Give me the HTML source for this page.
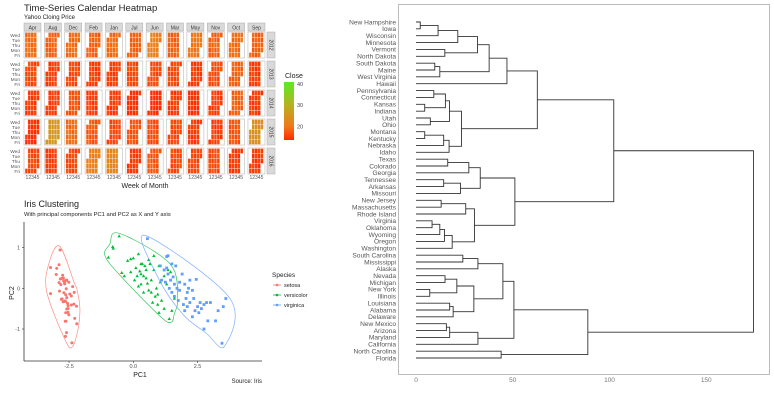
<!DOCTYPE html>
<html><head><meta charset="utf-8"><style>
html,body{margin:0;padding:0;background:#fff;width:774px;height:400px;overflow:hidden;}
svg{display:block;font-family:"Liberation Sans",sans-serif;}
</style></head><body>
<svg id="s" width="774" height="400" viewBox="0 0 774 400">
<g id="hm">
<text x="24" y="11" font-size="9.5" fill="#222">Time-Series Calendar Heatmap</text>
<text x="24" y="19" font-size="6" fill="#222">Yahoo Cloing Price</text>
<text x="145" y="188" font-size="7" fill="#222" text-anchor="middle">Week of Month</text>
<text x="285" y="78" font-size="7" fill="#222">Close</text>
<defs><linearGradient id="cg" x1="0" y1="1" x2="0" y2="0">
<stop offset="0" stop-color="#ff2a00"/><stop offset="0.24" stop-color="#f07a1a"/><stop offset="0.6" stop-color="#b8b020"/><stop offset="1" stop-color="#55ee22"/></linearGradient></defs>
<rect x="284" y="82" width="10" height="58" fill="url(#cg)"/>
</g>
<g id="iris">
<text x="24" y="207" font-size="9" fill="#222">Iris Clustering</text>
<text x="24" y="216" font-size="5.8" fill="#222">With principal components PC1 and PC2 as X and Y axis</text>
<line x1="24" y1="222" x2="24" y2="361" stroke="#333" stroke-width="0.8"/>
<line x1="24" y1="361" x2="262" y2="361" stroke="#333" stroke-width="0.8"/>
<text x="140" y="377" font-size="7" fill="#222" text-anchor="middle">PC1</text>
<text transform="translate(14,293) rotate(-90)" font-size="7" fill="#222" text-anchor="middle">PC2</text>
<text x="262" y="383" font-size="6" fill="#222" text-anchor="end">Source: Iris</text>
<text x="272" y="277" font-size="6.5" fill="#222">Species</text>
</g>
<g id="dd">
<rect x="398.5" y="4.5" width="371" height="370" fill="none" stroke="#bbb" stroke-width="1"/>
</g>
</svg>
<script>
// ---------- heatmap data ----------
const months=["Apr","Aug","Dec","Feb","Jan","Jul","Jun","Mar","May","Nov","Oct","Sep"];
const years=["2012","2013","2014","2015","2016"];
const days=["Wed","Tue","Thu","Mon","Fri"];
const close2012=[19,18,19,18,19,18,21,18,20,18,19,18];
const close2013=[16,15,16,15,15,16,16,16,15,16,18,15];
const close2014=[15,15,17,15,15,14,13,15,14,15,18,15];
const close2015=[14,25,19,17,16,17,16,16,15,15,17,24];
const close2016=[16,15,16,21,22,15,17,16,16,16,15,15];
const startOffsets=[0,1,2,3,1,4,2,0,3,1,2,4];
const legendTicks=[20,30,40];
// ---------- iris data ----------
const setosa=[[-2.68,-0.32],[-2.71,0.18],[-2.89,0.14],[-2.75,0.32],[-2.73,-0.33],[-2.28,-0.74],[-2.82,0.09],[-2.63,-0.16],[-2.89,0.58],[-2.67,0.11],[-2.51,-0.65],[-2.61,-0.01],[-2.79,0.24],[-3.22,0.51],[-2.64,-1.18],[-2.39,-1.34],[-2.62,-0.81],[-2.65,-0.31],[-2.2,-0.87],[-2.59,-0.51],[-2.31,-0.39],[-2.54,-0.43],[-3.22,-0.13],[-2.3,-0.1],[-2.36,0.04],[-2.51,0.15],[-2.47,-0.14],[-2.56,-0.37],[-2.64,-0.32],[-2.63,0.19],[-2.59,0.2],[-2.41,-0.41],[-2.65,-0.81],[-2.6,-1.09],[-2.67,0.12],[-2.87,-0.07],[-2.63,-0.6],[-2.8,-0.27],[-2.98,0.49],[-2.59,-0.23],[-2.77,-0.26],[-2.85,0.94],[-3,0.34],[-2.41,-0.19],[-2.21,-0.44],[-2.72,0.25],[-2.54,-0.5],[-2.84,0.23],[-2.54,-0.59],[-2.7,-0.11]];
const versicolor=[[-0.55,1.28],[-0.8,1.02],[-0.78,0.98],[-0.97,0.76],[-0.45,0.38],[-0.22,0.68],[-0.1,0.72],[0.0,0.74],[0.2,0.84],[0.35,0.6],[0.45,0.55],[0.6,0.7],[0.1,0.5],[0.25,0.42],[0.3,0.35],[0.4,0.3],[0.5,0.25],[0.15,0.3],[-0.1,0.4],[0.05,0.2],[0.3,0.1],[0.55,0.12],[0.7,0.2],[0.8,0.45],[1.0,0.55],[1.2,0.3],[1.35,0.45],[1.45,0.4],[1.3,0.1],[0.9,0.0],[0.6,-0.05],[0.4,-0.1],[0.2,0.05],[0.85,-0.2],[0.75,-0.35],[0.95,-0.4],[1.1,-0.3],[1.2,-0.5],[1.0,-0.6],[1.5,-0.55],[1.4,-0.75],[0.7,-0.1],[0.5,0.45],[-0.35,0.3],[0.65,0.6],[1.05,0.15],[0.95,-0.15],[0.3,0.6],[0.8,0.8],[1.6,-0.25]];
const virginica=[[0.55,1.22],[1.3,0.78],[1.35,0.8],[1.5,0.6],[1.65,0.55],[1.05,0.55],[1.2,0.45],[1.35,0.35],[1.1,0.2],[1.25,0.15],[1.45,0.2],[1.55,0.28],[1.6,0.1],[1.8,0.15],[2.0,0.1],[2.2,0.2],[2.45,0.22],[1.8,-0.05],[2.1,-0.1],[2.3,-0.05],[1.75,-0.3],[1.95,-0.4],[2.1,-0.45],[2.35,-0.25],[2.5,-0.45],[2.6,-0.35],[2.75,-0.4],[2.85,-0.35],[2.55,-0.6],[2.4,-0.55],[2.65,-0.5],[2.3,-0.7],[3.0,-0.35],[3.6,-0.25],[3.5,-0.45],[3.3,-0.55],[3.2,-0.8],[2.9,-0.8],[2.75,-1.0],[3.45,-1.35],[1.5,-0.1],[1.7,0.0],[1.4,0.0],[1.9,0.35],[2.05,-0.25],[2.2,-0.35],[1.6,-0.2],[2.15,0.0],[1.3,0.5],[2.0,-0.55]];
const speciesNames=["setosa","versicolor","virginica"];
const xTicks=[-2.5,0,2.5];
const yTicks=[-1,0,1];
// ---------- dendrogram data ----------
const treeA=[[[[["New Hampshire","Iowa",2.2],"Wisconsin",11.4],"Minnesota",21.6],["Vermont","North Dakota",14.9],31.8],[["South Dakota","Maine",9.7],"West Virginia",12.3],37.8];
const treeB=[[[["Pennsylvania","Connecticut",9.2],["Kansas","Indiana",4.5],15.2],["Utah","Ohio",7.4],17.3],[[["Montana","Kentucky",4.5],"Nebraska",14.3],"Idaho",17.1],23.5];
const treeC=[[[["Texas","Colorado",16.4],"Georgia",27.3],[["Tennessee","Arkansas",14.3],"Missouri",23],33.2],[[["New Jersey","Massachusetts",13],"Rhode Island",25.7],[[[["Virginia","Oklahoma",8.3],"Wyoming",12.3],"Oregon",14.7],"Washington",18.7],30.2],51.1];
const treeD=[[[["South Carolina","Mississippi",24.2],"Alaska",32],[[["Nevada","Michigan",15],["New York","Illinois",7.1],21.1],[["Louisiana","Alabama",17.4],"Delaware",19.2],29.9],44.9],[[["New Mexico","Arizona",15.7],"Maryland",17.4],"California",32],50.6];
const treeRoot=[[[[treeA,"Hawaii",47],treeB,62.7],treeC,102.2],[treeD,["North Carolina","Florida",44],88.8],174.4];
const dTicks=[0,50,100,150];

const NS="http://www.w3.org/2000/svg";
function mk(tag,attrs,parent){const e=document.createElementNS(NS,tag);for(const k in attrs)e.setAttribute(k,attrs[k]);parent.appendChild(e);return e;}

// ---- heatmap ----
(function(){
const g=document.getElementById('hm');
const stops=[[13.5,[255,42,0]],[20,[240,122,26]],[30,[184,176,32]],[41,[85,238,34]]];
function col(v){if(v<=stops[0][0])return 'rgb('+stops[0][1]+')';for(let i=1;i<stops.length;i++){if(v<=stops[i][0]){const a=stops[i-1],b=stops[i],t=(v-a[0])/(b[0]-a[0]);return 'rgb('+a[1].map((c,j)=>Math.round(c+(b[1][j]-c)*t)).join(',')+')';}}return 'rgb('+stops[3][1]+')';}
const legY=v=>140-(v-13.5)*(58/27.5);
legendTicks.forEach(t=>{const tx=mk('text',{x:297,y:legY(t)+2,'font-size':5.5,fill:'#444'},g);tx.textContent=t;

});
const data=[close2012,close2013,close2014,close2015,close2016];
const px0=24,pitch=20.36,pw=17,py0=32,pyp=29,ph=26;
months.forEach((m,i)=>{const x=px0+i*pitch;
const r=mk('rect',{x:x,y:23,width:pw,height:8,fill:'#d9d9d9',stroke:'#aaa','stroke-width':0.5},g);


const t=mk('text',{x:x+pw/2,y:29.3,'font-size':5,'text-anchor':'middle',fill:'#333'},g);t.textContent=m;


const w=mk('text',{x:x+pw/2,y:179,'font-size':5,'text-anchor':'middle',fill:'#555'},g);w.textContent='12345';

});
years.forEach((yr,j)=>{const y=py0+j*pyp;
const r=mk('rect',{x:267,y:y,width:8,height:ph,fill:'#d9d9d9',stroke:'#aaa','stroke-width':0.5},g);


const t=mk('text',{transform:'translate(269.5,'+(y+ph/2)+') rotate(90)','font-size':5,'text-anchor':'middle',fill:'#333'},g);t.textContent=yr;


days.forEach((d,k)=>{const dl=mk('text',{x:20,y:y+3+k*5+1.8,'font-size':4.8,'text-anchor':'end',fill:'#555'},g);dl.textContent=d;

});
months.forEach((m,i)=>{const x=px0+i*pitch;
const pr=mk('rect',{x:x,y:y,width:pw,height:ph,fill:'#fff',stroke:'#bbb','stroke-width':0.6},g);


const v=data[j][i],off=(startOffsets[i]+j)%5;
for(let c=0;c<5;c++)for(let r2=0;r2<5;r2++){
if(c===0&&r2<off)continue; if(c===4&&r2>=off)continue;
const vv=v+((c*3+r2*2+i+j)%5-2)*0.5;
const cell=mk('rect',{x:x+1+c*2.9,y:y+0.5+r2*5,width:2.9,height:5,fill:col(vv),stroke:'#fff','stroke-width':0.3},g);

}
});});
})();

// ---- iris ----
(function(){
const g=document.getElementById('iris');
const sx=v=>133.3+v*25.7, sy=v=>288.3-v*40.7;
xTicks.forEach(t=>{const tx=mk('text',{x:sx(t),y:368,'font-size':5.5,'text-anchor':'middle',fill:'#555'},g);tx.textContent=t.toFixed(1);


mk('line',{x1:sx(t),y1:361,x2:sx(t),y2:363,stroke:'#333','stroke-width':0.6},g);});
yTicks.forEach(t=>{const tx=mk('text',{x:20,y:sy(t)+2,'font-size':5.5,'text-anchor':'end',fill:'#555'},g);tx.textContent=t;


mk('line',{x1:22,y1:sy(t),x2:24,y2:sy(t),stroke:'#333','stroke-width':0.6},g);});
const sets=[setosa,versicolor,virginica],cols=['#f8766d','#00ba38','#619cff'];
function hull(p){p=p.slice().sort((a,b)=>a[0]-b[0]||a[1]-b[1]);const cr=(o,a,b)=>(a[0]-o[0])*(b[1]-o[1])-(a[1]-o[1])*(b[0]-o[0]);const lo=[],up=[];for(const q of p){while(lo.length>1&&cr(lo[lo.length-2],lo[lo.length-1],q)<=0)lo.pop();lo.push(q);}for(const q of p.slice().reverse()){while(up.length>1&&cr(up[up.length-2],up[up.length-1],q)<=0)up.pop();up.push(q);}return lo.slice(0,-1).concat(up.slice(0,-1));}
sets.forEach((s,k)=>{
const px=s.map(p=>[sx(p[0]),sy(p[1])]);const h=hull(px);
const cx=h.reduce((a,p)=>a+p[0],0)/h.length,cy=h.reduce((a,p)=>a+p[1],0)/h.length;
const e=h.map(p=>{const dx=p[0]-cx,dy=p[1]-cy,d=Math.hypot(dx,dy)||1;return [p[0]+dx/d*4,p[1]+dy/d*4];});
const n=e.length;let d='M'+e[0][0]+','+e[0][1];
for(let i=0;i<n;i++){const p0=e[(i-1+n)%n],p1=e[i],p2=e[(i+1)%n],p3=e[(i+2)%n];
d+=' C'+(p1[0]+(p2[0]-p0[0])/6)+','+(p1[1]+(p2[1]-p0[1])/6)+' '+(p2[0]-(p3[0]-p1[0])/6)+','+(p2[1]-(p3[1]-p1[1])/6)+' '+p2[0]+','+p2[1];}
const hp=mk('path',{d:d+'Z',fill:'none',stroke:cols[k],'stroke-width':0.7,'stroke-opacity':0.8},g);


s.forEach(p=>{const x=sx(p[0]),y=sy(p[1]);let el;
if(k===0)el=mk('circle',{cx:x,cy:y,r:1.5,fill:cols[k]},g);
else if(k===1)el=mk('path',{d:'M'+x+','+(y-1.8)+'L'+(x+1.7)+','+(y+1.2)+'L'+(x-1.7)+','+(y+1.2)+'Z',fill:cols[k]},g);
else el=mk('rect',{x:x-1.4,y:y-1.4,width:2.8,height:2.8,fill:cols[k]},g);

});
const ly=285+k*10;
const le=mk('g',{},g);


mk('line',{x1:273,y1:ly,x2:281,y2:ly,stroke:cols[k],'stroke-width':0.8},le);
mk('circle',{cx:277,cy:ly,r:1.3,fill:cols[k]},le);
const t=mk('text',{x:284,y:ly+2,'font-size':5.5,fill:'#222'},le);t.textContent=speciesNames[k];
});
})();

// ---- dendrogram ----
(function(){
const g=document.getElementById('dd');
const sx=v=>416+v*1.935; const y0=22,dy=(358-22)/49;
let idx=0;
function draw(n){
if(typeof n==='string'){const y=y0+(idx++)*dy;const t=mk('text',{x:396,y:y+2.3,'font-size':6.6,'text-anchor':'end',fill:'#555'},g);t.textContent=n;


return {y:y,h:0};}
const a=draw(n[0]),b=draw(n[1]),h=n[2],x=sx(h);
const p=mk('path',{d:'M'+sx(a.h)+','+a.y+'H'+x+'V'+b.y+'H'+sx(b.h),fill:'none',stroke:'#333','stroke-width':0.9},g);


return {y:(a.y+b.y)/2,h:h};}
draw(treeRoot);
dTicks.forEach(t=>{const tx=mk('text',{x:sx(t),y:382,'font-size':6.5,'text-anchor':'middle',fill:'#777'},g);tx.textContent=t;

});
})();
</script>
</body></html>
